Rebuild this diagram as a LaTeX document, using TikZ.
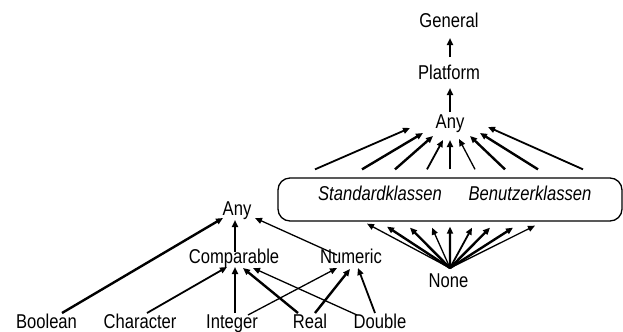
\documentclass[tikz,border=0pt]{standalone}
\usepackage{fontspec}
\setmainfont{Liberation Sans}[FakeStretch=0.83]
\usetikzlibrary{arrows.meta}
\tikzset{
  lbl/.style={anchor=base, inner sep=0pt, font=\fontsize{20bp}{24bp}\selectfont},
  ilbl/.style={lbl, font=\fontsize{20bp}{24bp}\selectfont\itshape},
  conn/.style={-{Triangle[length=7bp,width=6bp]}, line width=1.4bp},
  thk/.style={conn, line width=2.4bp},
  mid/.style={conn, line width=1.8bp},
  thn/.style={conn, line width=1.3bp},
  classbox/.style={draw, line width=1.3bp, rounded corners=12bp, minimum width=344bp, minimum height=43bp, inner sep=0pt}
}
% \link{style}{from node}{offset}{to node}{offset}
\newcommand\link[5]{\draw[#1] ([shift={(#3)}]#2) -- ([shift={(#5)}]#4);}
\begin{document}
\begin{tikzpicture}[x=1bp,y=-1bp]
\useasboundingbox (0,0) rectangle (623,331);

% right hierarchy
\node[lbl] (gen)  at (449,27)  {General};
\node[lbl] (plat) at (449,79)  {Platform};
\node[lbl] (anyR) at (450,128) {Any};
\node[classbox] (box) at (450,199.5) {};
\node[ilbl] (std) at (380,200) {Standardklassen};
\node[ilbl] (ben) at (530,200) {Benutzerklassen};
\node[lbl] (none) at (448.5,287) {None};

\link{thk}{plat.base}{1,-22}{gen.base}{1,11}
\link{thk}{anyR.base}{0,-16}{plat.base}{1,9}

% box to Any
\link{mid}{box.north}{-135,-8}{anyR.base}{-40,0}
\link{thk}{box.north}{-88,-8}{anyR.base}{-27,5}
\link{thk}{box.north}{-55,-8}{anyR.base}{-17,8}
\link{mid}{box.north}{-23,-8}{anyR.base}{-7,12}
\link{thk}{box.north}{0,-8}{anyR.base}{0,12}
\link{thn}{box.north}{25,-8}{anyR.base}{9,11}
\link{thk}{box.north}{55,-8}{anyR.base}{20,8}
\link{thk}{box.north}{88,-8}{anyR.base}{30,5}
\link{mid}{box.north}{133,-8}{anyR.base}{38,-1}

% None to box
\link{thn}{none.base}{1.5,-19}{box.south}{-83,2}
\link{thk}{none.base}{1.5,-19}{box.south}{-63,5}
\link{thk}{none.base}{1.5,-19}{box.south}{-40,6}
\link{thn}{none.base}{1.5,-19}{box.south}{-18,6}
\link{thk}{none.base}{1.5,-19}{box.south}{0,5}
\link{mid}{none.base}{1.5,-19}{box.south}{22,6}
\link{thk}{none.base}{1.5,-19}{box.south}{40,6}
\link{thk}{none.base}{1.5,-19}{box.south}{63,6}
\link{thn}{none.base}{1.5,-19}{box.south}{85,4}

% left hierarchy
\node[lbl] (anyL) at (237,215) {Any};
\node[lbl] (comp) at (234,263) {Comparable};
\node[lbl] (num)  at (351,263) {Numeric};
\node[lbl] (bool) at (46.5,328) {Boolean};
\node[lbl] (char) at (140,328) {Character};
\node[lbl] (int)  at (232,328) {Integer};
\node[lbl] (real) at (310,328) {Real};
\node[lbl] (dbl)  at (380,328) {Double};

\link{thk}{bool.base}{15.5,-15}{anyL.base}{-14,3}
\link{thk}{comp.base}{1,-11}{anyL.base}{-2,5}
\link{thn}{num.base}{-14,-8}{anyL.base}{18,3}
\link{mid}{char.base}{7,-15}{comp.base}{-7,4}
\link{thk}{int.base}{3,-15}{comp.base}{1,4}
\link{thk}{real.base}{-12,-15}{comp.base}{9,5}
\link{thn}{dbl.base}{-23,-13}{comp.base}{19,5}
\link{thn}{int.base}{16,-13}{num.base}{-14,5}
\link{thk}{real.base}{5,-15}{num.base}{-1,6}
\link{mid}{dbl.base}{-5,-15}{num.base}{7,5}
\end{tikzpicture}
\end{document}
